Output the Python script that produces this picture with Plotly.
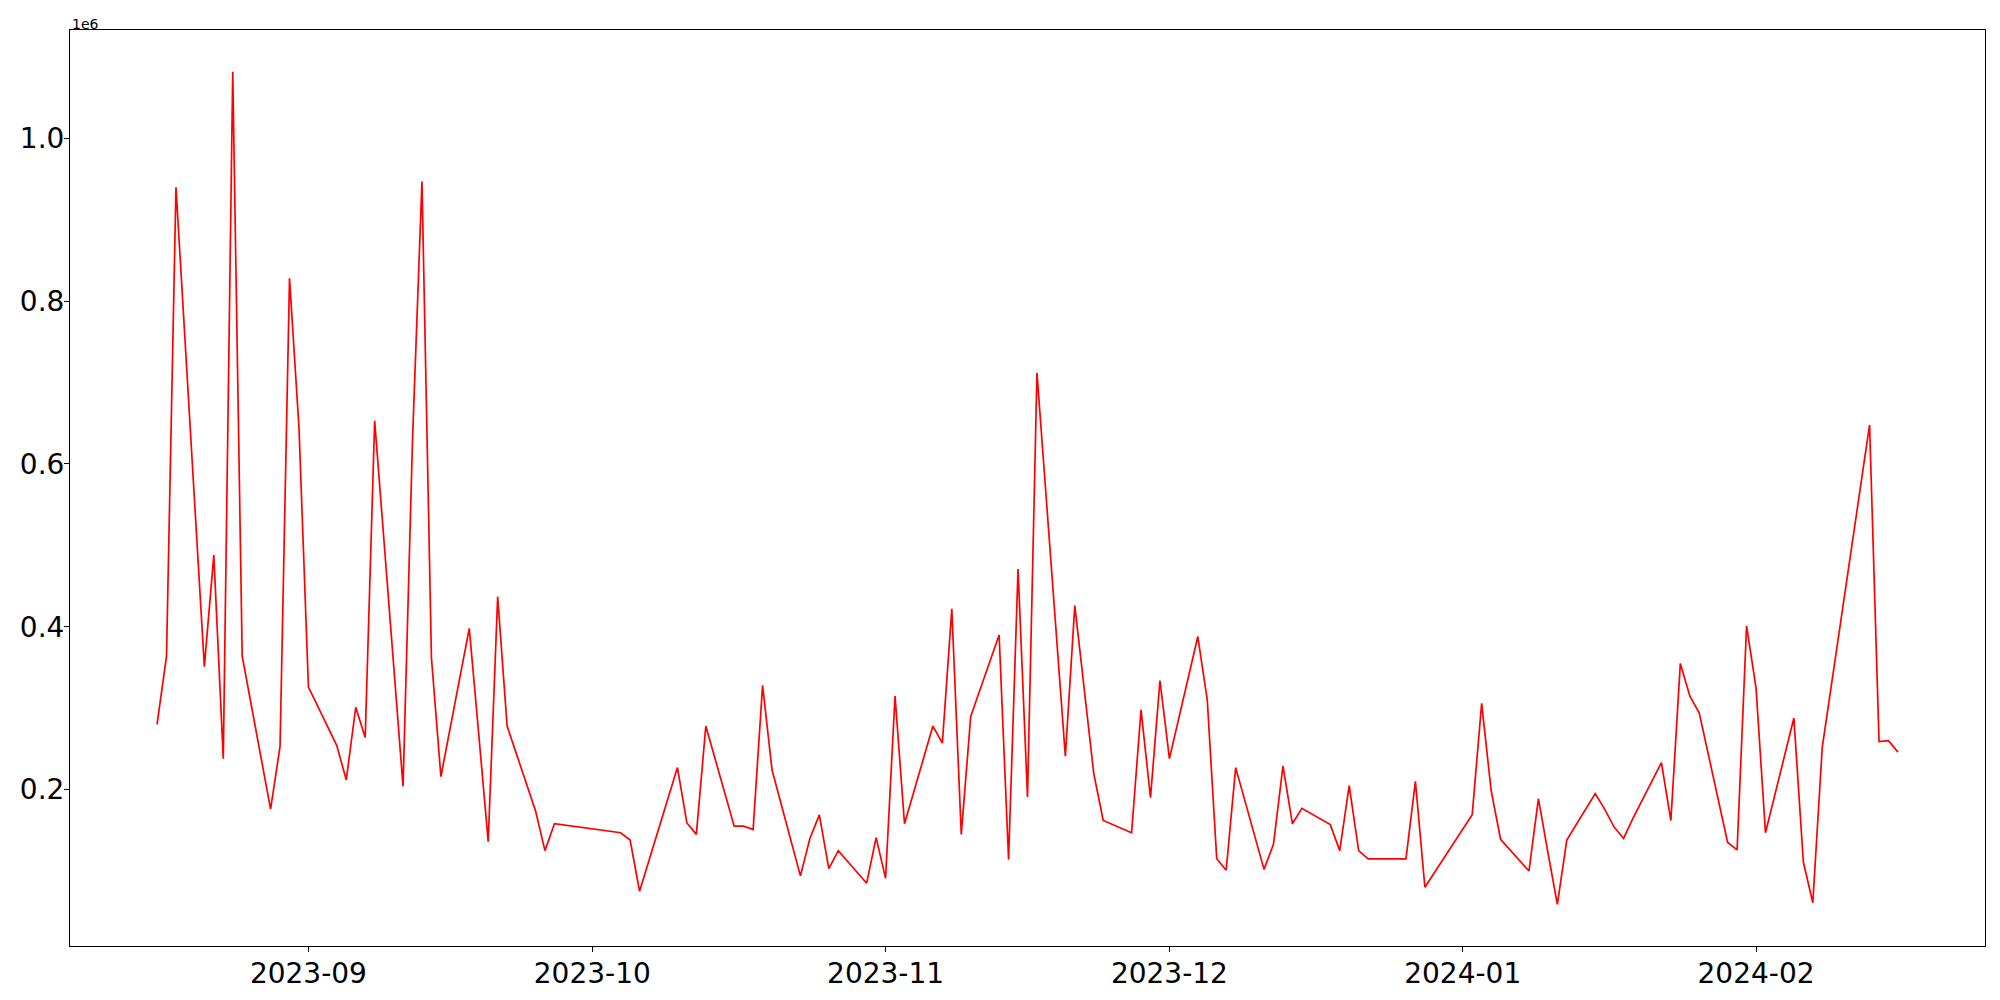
import pandas as pd
import plotly.graph_objects as go

dates = [
    "2023-08-16", "2023-08-17", "2023-08-18", "2023-08-21", "2023-08-22", "2023-08-23",
    "2023-08-24", "2023-08-25", "2023-08-28", "2023-08-29", "2023-08-30", "2023-08-31",
    "2023-09-01", "2023-09-04", "2023-09-05", "2023-09-06", "2023-09-07", "2023-09-08",
    "2023-09-11", "2023-09-12", "2023-09-13", "2023-09-14", "2023-09-15", "2023-09-18",
    "2023-09-19", "2023-09-20", "2023-09-21", "2023-09-22", "2023-09-25", "2023-09-26",
    "2023-09-27", "2023-10-04", "2023-10-05", "2023-10-06", "2023-10-10", "2023-10-11",
    "2023-10-12", "2023-10-13", "2023-10-16", "2023-10-17", "2023-10-18", "2023-10-19",
    "2023-10-20", "2023-10-23", "2023-10-24", "2023-10-25", "2023-10-26", "2023-10-27",
    "2023-10-30", "2023-10-31", "2023-11-01", "2023-11-02", "2023-11-03", "2023-11-06",
    "2023-11-07", "2023-11-08", "2023-11-09", "2023-11-10", "2023-11-13", "2023-11-14",
    "2023-11-15", "2023-11-16", "2023-11-17", "2023-11-20", "2023-11-21", "2023-11-22",
    "2023-11-23", "2023-11-24", "2023-11-27", "2023-11-28", "2023-11-29", "2023-11-30",
    "2023-12-01", "2023-12-04", "2023-12-05", "2023-12-06", "2023-12-07", "2023-12-08",
    "2023-12-11", "2023-12-12", "2023-12-13", "2023-12-14", "2023-12-15", "2023-12-18",
    "2023-12-19", "2023-12-20", "2023-12-21", "2023-12-22", "2023-12-26", "2023-12-27",
    "2023-12-28", "2024-01-02", "2024-01-03", "2024-01-04", "2024-01-05", "2024-01-08",
    "2024-01-09", "2024-01-10", "2024-01-11", "2024-01-12", "2024-01-15", "2024-01-16",
    "2024-01-17", "2024-01-18", "2024-01-19", "2024-01-22", "2024-01-23", "2024-01-24",
    "2024-01-25", "2024-01-26", "2024-01-29", "2024-01-30", "2024-01-31", "2024-02-01",
    "2024-02-02", "2024-02-05", "2024-02-06", "2024-02-07", "2024-02-08", "2024-02-13",
    "2024-02-14", "2024-02-15", "2024-02-16",
]

values = [
    280000, 364000, 940000, 351000, 488000, 238000,
    1082000, 364000, 176000, 253000, 828000, 645000,
    326000, 254000, 212000, 301000, 264000, 653000,
    204000, 629000, 947000, 362000, 216000, 398000,
    268000, 136000, 437000, 278000, 174000, 125000,
    158000, 147000, 138000, 75000, 227000, 159000,
    145000, 278000, 155000, 155000, 151000, 328000,
    224000, 94000, 140000, 169000, 103000, 125000,
    85000, 141000, 91000, 315000, 158000, 278000,
    257000, 422000, 145000, 290000, 390000, 114000,
    471000, 191000, 712000, 241000, 426000, 323000,
    220000, 162000, 147000, 298000, 190000, 334000,
    238000, 388000, 310000, 115000, 101000, 227000,
    102000, 133000, 229000, 158000, 177000, 157000,
    125000, 205000, 125000, 115000, 115000, 210000,
    80000, 169000, 306000, 199000, 139000, 100000,
    189000, 123000, 59000, 138000, 195000, 176000,
    154000, 140000, 165000, 233000, 162000, 355000,
    315000, 294000, 135000, 126000, 401000, 325000,
    147000, 288000, 111000, 61000, 252000, 648000,
    259000, 260000, 246000,
]

x_tick_vals = ["2023-09-01", "2023-10-01", "2023-11-01", "2023-12-01", "2024-01-01", "2024-02-01"]
x_tick_text = ["2023-09", "2023-10", "2023-11", "2023-12", "2024-01", "2024-02"]
y_tick_vals = [200000, 400000, 600000, 800000, 1000000]
y_tick_text = ["0.2", "0.4", "0.6", "0.8", "1.0"]
offset_label = "1e6"

# matplotlib-style 5% margins computed from the data
d = pd.to_datetime(dates)
span = d.max() - d.min()
x_range = [(d.min() - 0.05 * span).isoformat(), (d.max() + 0.05 * span).isoformat()]
vmin, vmax = min(values), max(values)
y_range = [vmin - 0.05 * (vmax - vmin), vmax + 0.05 * (vmax - vmin)]

fig = go.Figure()
fig.add_trace(go.Scatter(x=dates, y=values, mode="lines",
                         line=dict(color="red", width=1.7), showlegend=False))

font = dict(family="DejaVu Sans", size=28, color="black")
axis_common = dict(showline=True, linecolor="black", linewidth=1.1, mirror=True,
                   ticks="outside", ticklen=5, tickwidth=1.1, tickcolor="black",
                   showgrid=False, zeroline=False, tickfont=font, automargin=False)

fig.update_xaxes(type="date", range=x_range, tickvals=x_tick_vals, ticktext=x_tick_text,
                 ticklabelstandoff=-3, **axis_common)
fig.update_yaxes(range=y_range, tickvals=y_tick_vals, ticktext=y_tick_text,
                 ticklabelstandoff=-6, **axis_common)

fig.add_annotation(text=offset_label, xref="paper", yref="paper", x=0, y=1,
                   xanchor="left", yanchor="bottom", showarrow=False,
                   font=dict(family="DejaVu Sans", size=14, color="black"), yshift=-4)

# the page body adds an 8px offset, so margins are trimmed by that amount
fig.update_layout(width=2000, height=1000, plot_bgcolor="white", paper_bgcolor="white",
                  margin=dict(l=62, r=23, t=22, b=62))

fig.write_html("out.html")
